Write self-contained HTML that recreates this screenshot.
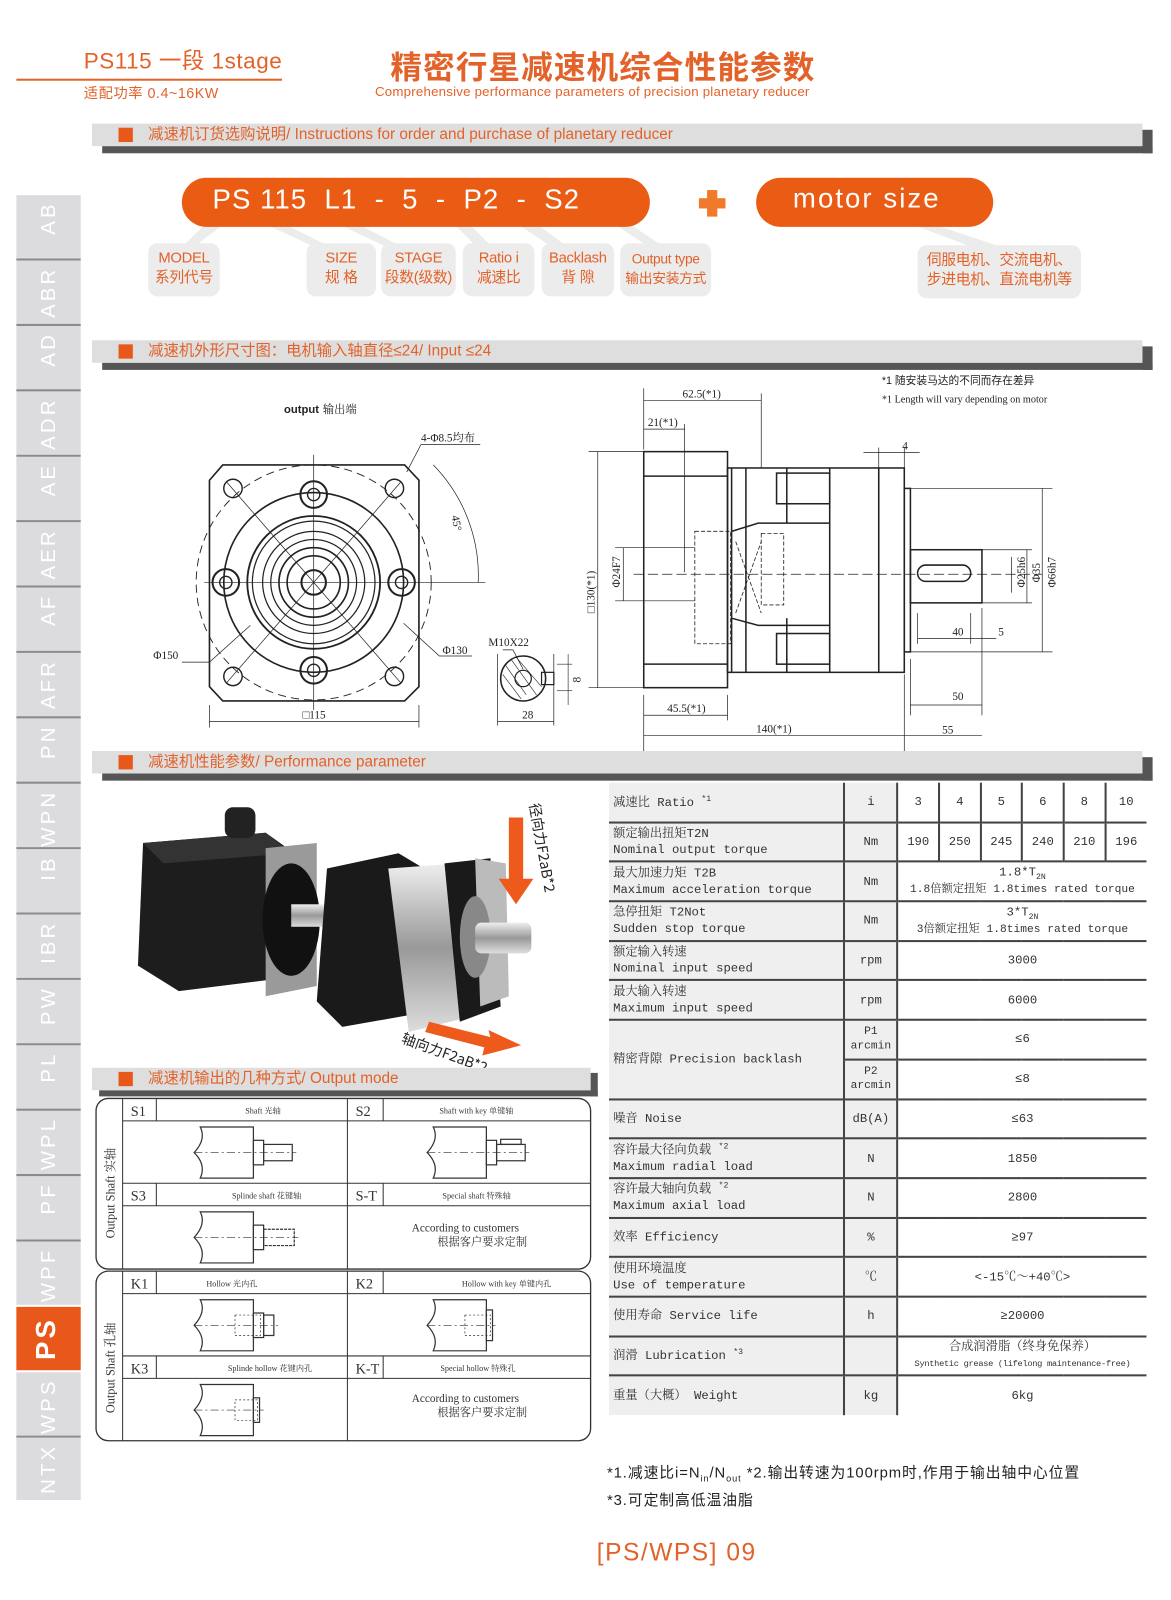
<!DOCTYPE html>
<html><head><meta charset="utf-8"><style>
*{margin:0;padding:0;box-sizing:border-box}
html,body{width:1171px;height:1600px;overflow:hidden;background:#fff}
#w{position:absolute;left:0;top:0;width:1146px;height:1566px;transform:scale(1.0218);transform-origin:0 0;font-family:"Liberation Sans","Noto Sans CJK SC",sans-serif}
.a{position:absolute}
.or{color:#e2622a}
.tab{position:absolute;left:16px;width:63px;height:62px;background:#dcdcdf}
.tab span{position:absolute;left:50%;top:6px;transform-origin:0 0;transform:translate(-12px,0) rotate(-90deg) translate(-100%,0);color:#fff;font-size:20px;letter-spacing:3px;white-space:nowrap;line-height:24px}
.sec{position:absolute;height:22px;background:#dedede}
.secd{position:absolute;background:#555}
.sq{position:absolute;width:14px;height:14px;background:#e8581a}
.st{position:absolute;font-size:15px;color:#e2622a;white-space:nowrap;line-height:22px}
.lb{position:absolute;top:238px;height:52px;background:#ececec;border-radius:9px;color:#e2622a;font-size:14.5px;line-height:19px;text-align:center;padding-top:6px;white-space:nowrap;letter-spacing:-0.3px}
table.p{position:absolute;left:596px;top:766px;width:526px;table-layout:fixed;border-collapse:collapse;font-family:"Liberation Mono","Noto Serif CJK SC",serif;font-size:12px;color:#333}
table.p tr{height:38.7px}
table.p td{border-top:2px solid #444;height:38.7px;padding:0;line-height:16px;white-space:nowrap;overflow:hidden}
table.p tr:first-child td{border-top:none}
td.l{background:#efefef;padding-left:4px!important;text-align:left}
td.u{background:#efefef;text-align:center;border-left:2px solid #444;border-right:2px solid #444}
td.v{text-align:center;background:#fff}
td.r{text-align:center;border-left:2px solid #444}
</style></head><body><div id="w">

<!-- header -->
<div class="a or" style="left:82px;top:47px;font-size:22px;letter-spacing:0.5px;line-height:26px">PS115 一段 1stage</div>
<div class="a" style="left:16px;top:77px;width:260px;height:2px;background:#e2622a"></div>
<div class="a or" style="left:82px;top:81px;font-size:14px;letter-spacing:0.5px">适配功率 0.4~16KW</div>
<div class="a or" style="left:382px;top:44px;font-size:31px;font-weight:bold;letter-spacing:1px;font-family:'Noto Sans CJK SC',sans-serif;line-height:40px">精密行星减速机综合性能参数</div>
<div class="a or" style="left:367px;top:82px;font-size:13px;letter-spacing:0.2px">Comprehensive performance parameters of precision planetary reducer</div>

<!-- sidebar -->
<div class="tab" style="top:191px"><span>AB</span></div>
<div class="tab" style="top:255px"><span>ABR</span></div>
<div class="tab" style="top:319px"><span>AD</span></div>
<div class="tab" style="top:383px"><span>ADR</span></div>
<div class="tab" style="top:447px"><span>AE</span></div>
<div class="tab" style="top:511px"><span>AER</span></div>
<div class="tab" style="top:575px"><span>AF</span></div>
<div class="tab" style="top:639px"><span>AFR</span></div>
<div class="tab" style="top:703px"><span>PN</span></div>
<div class="tab" style="top:767px"><span>WPN</span></div>
<div class="tab" style="top:831px"><span>IB</span></div>
<div class="tab" style="top:895px"><span>IBR</span></div>
<div class="tab" style="top:959px"><span>PW</span></div>
<div class="tab" style="top:1023px"><span>PL</span></div>
<div class="tab" style="top:1087px"><span>WPL</span></div>
<div class="tab" style="top:1151px"><span>PF</span></div>
<div class="tab" style="top:1215px"><span>WPF</span></div>
<div class="tab" style="top:1279px;background:#e8581a"><span style="font-size:27px;font-weight:bold;top:10px;transform:translate(-15px,0) rotate(-90deg) translate(-100%,0)">PS</span></div>
<div class="tab" style="top:1343px"><span>WPS</span></div>
<div class="tab" style="top:1407px;height:61px"><span>NTX</span></div>
<svg class="a" style="left:0;top:0" width="100" height="1566">
<g stroke="#8a8a8a" stroke-width="2">
<line x1="16" y1="254" x2="79" y2="254"/><line x1="16" y1="318" x2="79" y2="318"/><line x1="16" y1="382" x2="79" y2="382"/><line x1="16" y1="446" x2="79" y2="446"/><line x1="16" y1="510" x2="79" y2="510"/><line x1="16" y1="574" x2="79" y2="574"/><line x1="16" y1="638" x2="79" y2="638"/><line x1="16" y1="702" x2="79" y2="702"/><line x1="16" y1="766" x2="79" y2="766"/><line x1="16" y1="830" x2="79" y2="830"/><line x1="16" y1="894" x2="79" y2="894"/><line x1="16" y1="958" x2="79" y2="958"/><line x1="16" y1="1022" x2="79" y2="1022"/><line x1="16" y1="1086" x2="79" y2="1086"/><line x1="16" y1="1150" x2="79" y2="1150"/><line x1="16" y1="1214" x2="79" y2="1214"/><line x1="16" y1="1406" x2="79" y2="1406"/></g></svg>

<!-- section bars -->
<div class="secd" style="left:100px;top:143px;width:1028px;height:7px"></div><div class="secd" style="left:1118px;top:127px;width:10px;height:23px"></div>
<div class="sec" style="left:90px;top:121px;width:1028px"></div><div class="sq" style="left:116px;top:125px"></div>
<div class="st" style="left:145px;top:121px">减速机订货选购说明/ Instructions for order and purchase of planetary reducer</div>

<div class="secd" style="left:100px;top:355px;width:1028px;height:7px"></div><div class="secd" style="left:1118px;top:339px;width:10px;height:23px"></div>
<div class="sec" style="left:90px;top:333px;width:1028px"></div><div class="sq" style="left:116px;top:337px"></div>
<div class="st" style="left:145px;top:333px">减速机外形尺寸图：电机输入轴直径≤24/ Input ≤24</div>

<div class="secd" style="left:100px;top:757px;width:1028px;height:7px"></div><div class="secd" style="left:1118px;top:741px;width:10px;height:23px"></div>
<div class="sec" style="left:90px;top:735px;width:1028px"></div><div class="sq" style="left:116px;top:739px"></div>
<div class="st" style="left:145px;top:735px">减速机性能参数/ Performance parameter</div>

<div class="secd" style="left:97px;top:1067px;width:488px;height:6px"></div><div class="secd" style="left:578px;top:1050px;width:7px;height:23px"></div>
<div class="sec" style="left:90px;top:1045px;width:488px"></div><div class="sq" style="left:116px;top:1049px"></div>
<div class="st" style="left:145px;top:1045px">减速机输出的几种方式/ Output mode</div>

<!-- order code -->
<svg class="a" style="left:0;top:0" width="1146" height="300">
<g fill="#ececec">
<polygon points="205,215 225,215 185,245 175,245"/>
<polygon points="250,215 270,215 330,245 315,245"/>
<polygon points="322,215 342,215 400,245 385,245"/>
<polygon points="440,215 455,215 485,245 470,245"/>
<polygon points="500,215 520,215 560,245 545,245"/>
<polygon points="595,215 610,215 655,245 640,245"/>
<polygon points="880,215 900,215 990,245 960,245"/>
</g>
<rect x="178" y="174" width="458" height="48" rx="24" fill="#ea5b14"/>
<rect x="740" y="174" width="232" height="48" rx="24" fill="#ea5b14"/>
<rect x="692" y="186" width="10" height="26" fill="#f07a2a"/><rect x="684" y="194" width="26" height="10" fill="#f07a2a"/>
</svg>
<div class="a" style="left:208px;top:180px;font-size:27px;color:#fff;white-space:pre;letter-spacing:1px">PS 115  L1  -  5  -  P2  -  S2</div>
<div class="a" style="left:776px;top:179px;font-size:27px;color:#fff;letter-spacing:2px">motor size</div>
<div class="lb" style="left:145px;width:70px">MODEL<br>系列代号</div>
<div class="lb" style="left:300px;width:68px">SIZE<br>规 格</div>
<div class="lb" style="left:373px;width:73px">STAGE<br>段数(级数)</div>
<div class="lb" style="left:453px;width:70px">Ratio i<br>减速比</div>
<div class="lb" style="left:530px;width:71px">Backlash<br>背 隙</div>
<div class="lb" style="left:607px;width:89px;font-size:13.5px">Output type<br>输出安装方式</div>
<div class="lb" style="left:898px;width:160px;top:240px">伺服电机、交流电机、<br>步进电机、直流电机等</div>

<!-- drawings -->
<svg class="a" style="left:0;top:360px" width="1146" height="375" font-family="Liberation Serif,Noto Serif CJK SC,serif" font-size="11" fill="none" stroke="#222" stroke-width="1.2">
<g transform="translate(0,-360)">
<polygon points="218,455 396,455 410,470 410,672 396,686 218,686 205,672 205,470" stroke-width="1.6"/>
<circle cx="307" cy="570" r="115" stroke-dasharray="8 5" stroke-width="0.9"/>
<circle cx="307" cy="570" r="88" stroke-width="1.6"/>
<circle cx="307" cy="570" r="65" stroke-width="1.8"/>
<circle cx="307" cy="570" r="60"/><circle cx="307" cy="570" r="50"/><circle cx="307" cy="570" r="42"/><circle cx="307" cy="570" r="34" stroke-width="1.6"/><circle cx="307" cy="570" r="26" stroke-width="1.6"/><circle cx="307" cy="570" r="12" stroke-width="2"/>
<g stroke-width="1.4"><circle cx="228" cy="478" r="9"/><circle cx="386" cy="478" r="9"/><circle cx="228" cy="662" r="9"/><circle cx="386" cy="662" r="9"/>
<circle cx="307" cy="484" r="13" stroke-width="2"/><circle cx="307" cy="484" r="6"/><circle cx="307" cy="656" r="13" stroke-width="2"/><circle cx="307" cy="656" r="6"/>
<circle cx="221" cy="570" r="13" stroke-width="2"/><circle cx="221" cy="570" r="6"/><circle cx="393" cy="570" r="13" stroke-width="2"/><circle cx="393" cy="570" r="6"/></g>
<g stroke-width="0.7"><line x1="200" y1="570" x2="475" y2="570"/><line x1="307" y1="445" x2="307" y2="695"/><line x1="222" y1="472" x2="392" y2="668"/><line x1="392" y1="472" x2="222" y2="668"/>
<line x1="205" y1="690" x2="205" y2="712"/><line x1="410" y1="690" x2="410" y2="712"/><line x1="205" y1="706" x2="410" y2="706"/>
<path d="M424,455 A155,155 0 0,1 468,570"/><line x1="398" y1="462" x2="412" y2="435"/><line x1="412" y1="435" x2="470" y2="435"/>
<polyline points="178,648 205,648 245,612"/><polyline points="462,642 430,642 395,610"/>
<line x1="487" y1="640" x2="487" y2="710"/><line x1="542" y1="640" x2="542" y2="710"/><line x1="487" y1="706" x2="542" y2="706"/></g>
<circle cx="512" cy="664" r="22" stroke-width="1.5"/><circle cx="512" cy="664" r="8"/><rect x="530" y="658" width="12" height="12"/>
<g stroke-width="0.6"><line x1="494" y1="650" x2="515" y2="680"/><line x1="500" y1="645" x2="525" y2="680"/><line x1="505" y1="643" x2="530" y2="672"/><line x1="492" y1="660" x2="510" y2="684"/></g>
<polyline points="492,636 502,636 512,655" stroke-width="0.7"/><line x1="545" y1="650" x2="560" y2="650" stroke-width="0.6"/><line x1="545" y1="676" x2="560" y2="676" stroke-width="0.6"/><line x1="556" y1="640" x2="556" y2="690" stroke-width="0.6"/>
<g stroke-width="1.5">
<rect x="630" y="442" width="82" height="231"/><line x1="630" y1="466" x2="712" y2="466"/><line x1="630" y1="650" x2="712" y2="650"/>
<rect x="712" y="458" width="148" height="200"/><rect x="860" y="458" width="25" height="200"/><rect x="885" y="478" width="6" height="160"/>
<rect x="891" y="538" width="70" height="52"/><rect x="898" y="553" width="52" height="16" rx="8"/>
<rect x="760" y="463" width="52" height="30"/><rect x="760" y="620" width="52" height="30"/>
<line x1="716" y1="458" x2="716" y2="658"/><line x1="730" y1="458" x2="730" y2="658"/><line x1="770" y1="458" x2="770" y2="512"/><line x1="770" y1="605" x2="770" y2="658"/>
<polyline points="716,520 742,512 812,512"/><polyline points="716,605 742,612 812,612"/><line x1="812" y1="458" x2="812" y2="658"/></g>
<g stroke-dasharray="4 2" stroke-width="0.8"><rect x="680" y="520" width="35" height="110"/><rect x="745" y="522" width="22" height="70"/><line x1="720" y1="530" x2="745" y2="600"/><line x1="720" y1="600" x2="745" y2="530"/></g>
<g stroke-width="0.7"><line x1="620" y1="562" x2="1020" y2="562" stroke-dasharray="10 4"/>
<line x1="630" y1="380" x2="630" y2="440"/><line x1="745" y1="385" x2="745" y2="458"/><line x1="630" y1="392" x2="745" y2="392"/><line x1="670" y1="415" x2="670" y2="560"/><line x1="630" y1="420" x2="670" y2="420"/>
<line x1="576" y1="442" x2="630" y2="442"/><line x1="576" y1="673" x2="630" y2="673"/><line x1="585" y1="442" x2="585" y2="673"/>
<line x1="602" y1="536" x2="680" y2="536"/><line x1="602" y1="588" x2="680" y2="588"/><line x1="610" y1="536" x2="610" y2="588"/>
<line x1="630" y1="680" x2="630" y2="740"/><line x1="712" y1="680" x2="712" y2="705"/><line x1="630" y1="700" x2="712" y2="700"/><line x1="630" y1="720" x2="885" y2="720"/><line x1="885" y1="660" x2="885" y2="740"/>
<line x1="891" y1="645" x2="891" y2="700"/><line x1="961" y1="595" x2="961" y2="700"/><line x1="891" y1="690" x2="961" y2="690"/><line x1="885" y1="720" x2="961" y2="720"/>
<line x1="898" y1="600" x2="898" y2="630"/><line x1="950" y1="600" x2="950" y2="630"/><line x1="898" y1="625" x2="975" y2="625"/>
<line x1="860" y1="438" x2="860" y2="458"/><line x1="885" y1="438" x2="885" y2="458"/><line x1="845" y1="443" x2="900" y2="443"/>
<line x1="891" y1="478" x2="1030" y2="478"/><line x1="891" y1="638" x2="1030" y2="638"/><line x1="1020" y1="478" x2="1020" y2="638"/>
<line x1="961" y1="538" x2="1010" y2="538"/><line x1="961" y1="590" x2="1010" y2="590"/><line x1="1005" y1="538" x2="1005" y2="590"/><line x1="990" y1="545" x2="990" y2="580"/></g>
<g fill="#222" stroke="none">
<text x="278" y="404" font-family="Liberation Sans" font-weight="bold" font-size="11">output</text><text x="316" y="404" font-size="11">输出端</text>
<text x="412" y="432">4-Φ8.5均布</text><text x="442" y="505" transform="rotate(80 442 505)">45°</text>
<text x="150" y="645">Φ150</text><text x="433" y="640">Φ130</text><text x="296" y="703">□115</text><text x="478" y="632">M10X22</text><text x="511" y="703">28</text>
<text transform="translate(568,668) rotate(-90)">8</text>
<text x="668" y="389">62.5(*1)</text><text x="634" y="417">21(*1)</text><text x="883" y="440">4</text>
<text x="653" y="697">45.5(*1)</text><text x="740" y="717">140(*1)</text><text x="932" y="685">50</text><text x="922" y="718">55</text><text x="932" y="622">40</text><text x="977" y="622">5</text>
<text transform="translate(582,600) rotate(-90)">□130(*1)</text><text transform="translate(607,575) rotate(-90)">Φ24F7</text>
<text transform="translate(1003,575) rotate(-90)">Φ25h6</text><text transform="translate(1018,570) rotate(-90)">Φ35</text><text transform="translate(1033,575) rotate(-90)">Φ66h7</text>
<text x="863" y="376" font-family="Liberation Sans,Noto Sans CJK SC" font-size="10.5">*1 随安装马达的不同而存在差异</text>
<text x="863" y="394" font-size="10">*1 Length will vary depending on motor</text>
</g></g></svg>

<!-- product photo -->
<svg class="a" style="left:120px;top:765px" width="440" height="280">
<defs><linearGradient id="sil" x1="0" y1="0" x2="0" y2="1"><stop offset="0" stop-color="#eee"/><stop offset=".5" stop-color="#999"/><stop offset="1" stop-color="#ddd"/></linearGradient></defs>
<polygon points="20,60 140,50 175,75 175,190 55,205 15,180" fill="#1d1d1d"/>
<polygon points="20,60 140,50 165,70 40,80" fill="#333"/>
<rect x="100" y="25" width="30" height="30" rx="8" fill="#222"/>
<polygon points="140,65 190,60 190,200 140,210" fill="#9a9a9a"/>
<ellipse cx="165" cy="135" rx="28" ry="55" fill="#111"/>
<rect x="165" y="120" width="40" height="22" fill="url(#sil)"/>
<polygon points="200,85 270,70 295,85 300,225 215,240 190,215" fill="#1a1a1a"/>
<polygon points="260,85 330,80 340,230 280,245" fill="url(#sil)"/>
<polygon points="315,80 360,75 370,220 330,235" fill="#1a1a1a"/>
<polygon points="345,75 375,80 378,210 350,220" fill="#bbb"/>
<ellipse cx="345" cy="152" rx="15" ry="40" fill="#888"/>
<rect x="345" y="138" width="55" height="30" rx="6" fill="url(#sil)"/>
<polygon points="378,35 392,35 392,95 402,95 385,120 368,95 378,95" fill="#ee5a1c"/>
<polygon points="300,235 360,250 358,243 390,258 352,268 354,260 296,245" fill="#ee5a1c"/>
<text transform="translate(398,22) rotate(80)" font-size="14" fill="#222" font-family="Noto Sans CJK SC,sans-serif">径向力F2aB*2</text>
<text transform="translate(272,255) rotate(20)" font-size="14" fill="#222" font-family="Noto Sans CJK SC,sans-serif">轴向力F2aB*2</text>
</svg>

<!-- output mode -->
<svg class="a" style="left:90px;top:1070px" width="495" height="345" font-family="Liberation Serif,Noto Serif CJK SC,serif" fill="none" stroke="#333">
<rect x="4" y="5" width="484" height="167" rx="12" stroke-width="1.3"/>
<rect x="4" y="174" width="484" height="166" rx="12" stroke-width="1.3"/>
<g stroke-width="1"><line x1="30" y1="5" x2="30" y2="172"/><line x1="30" y1="174" x2="30" y2="340"/>
<line x1="250" y1="5" x2="250" y2="172"/><line x1="250" y1="174" x2="250" y2="340"/>
<line x1="30" y1="27" x2="488" y2="27"/><line x1="30" y1="88" x2="488" y2="88"/><line x1="30" y1="110" x2="488" y2="110"/>
<line x1="30" y1="196" x2="488" y2="196"/><line x1="30" y1="257" x2="488" y2="257"/><line x1="30" y1="279" x2="488" y2="279"/>
<line x1="63" y1="5" x2="63" y2="27"/><line x1="63" y1="88" x2="63" y2="110"/><line x1="63" y1="174" x2="63" y2="196"/><line x1="63" y1="257" x2="63" y2="279"/>
<line x1="285" y1="5" x2="285" y2="27"/><line x1="285" y1="88" x2="285" y2="110"/><line x1="285" y1="174" x2="285" y2="196"/><line x1="285" y1="257" x2="285" y2="279"/></g>
<g stroke-width="1.2">
<path d="M106,33 L158,33 L158,83 L106,83 Q112,70 100,58 Q112,45 106,33 Z"/>
<rect x="158" y="46" width="10" height="24"/><rect x="168" y="50" width="28" height="16"/>
<path d="M334,33 L386,33 L386,83 L334,83 Q340,70 328,58 Q340,45 334,33 Z"/><rect x="386" y="46" width="10" height="24"/><rect x="396" y="50" width="28" height="16"/><rect x="400" y="45" width="20" height="5"/>
<path d="M106,116 L158,116 L158,166 L106,166 Q112,153 100,141 Q112,128 106,116 Z"/><rect x="158" y="129" width="10" height="24"/><rect x="168" y="133" width="30" height="16" stroke-dasharray="3 1"/>
<path d="M106,202 L158,202 L158,252 L106,252 Q112,239 100,227 Q112,214 106,202 Z"/><rect x="158" y="215" width="10" height="24"/><rect x="168" y="217" width="10" height="20"/>
<path d="M334,202 L386,202 L386,252 L334,252 Q340,239 328,227 Q340,214 334,202 Z"/><rect x="386" y="212" width="6" height="30"/>
<path d="M106,285 L158,285 L158,335 L106,335 Q112,322 100,310 Q112,297 106,285 Z"/><rect x="158" y="298" width="6" height="24"/></g>
<g stroke-width="0.6" stroke-dasharray="8 3 2 3"><line x1="100" y1="58" x2="200" y2="58"/><line x1="328" y1="58" x2="428" y2="58"/><line x1="100" y1="141" x2="202" y2="141"/><line x1="100" y1="227" x2="182" y2="227"/><line x1="328" y1="227" x2="395" y2="227"/><line x1="100" y1="310" x2="168" y2="310"/></g>
<g stroke-width="0.7" stroke-dasharray="2 2"><rect x="140" y="217" width="25" height="20"/><rect x="365" y="217" width="25" height="20"/><rect x="140" y="300" width="22" height="20"/></g>
<g fill="#333" stroke="none">
<text x="38" y="22" font-size="14">S1</text><text x="150" y="20" font-size="8">Shaft 光轴</text>
<text x="258" y="22" font-size="14">S2</text><text x="340" y="20" font-size="8">Shaft with key 单键轴</text>
<text x="38" y="105" font-size="14">S3</text><text x="137" y="103" font-size="8">Splinde shaft 花键轴</text>
<text x="258" y="105" font-size="14">S-T</text><text x="343" y="103" font-size="8">Special shaft 特殊轴</text>
<text x="313" y="135" font-size="11">According to customers</text><text x="338" y="149" font-size="11">根据客户要求定制</text>
<text x="38" y="191" font-size="14">K1</text><text x="112" y="189" font-size="8">Hollow 光内孔</text>
<text x="258" y="191" font-size="14">K2</text><text x="362" y="189" font-size="8">Hollow with key 单键内孔</text>
<text x="38" y="274" font-size="14">K3</text><text x="133" y="272" font-size="8">Splinde hollow 花键内孔</text>
<text x="258" y="274" font-size="14">K-T</text><text x="341" y="272" font-size="8">Special hollow 特殊孔</text>
<text x="313" y="302" font-size="11">According to customers</text><text x="338" y="316" font-size="11">根据客户要求定制</text>
<text transform="translate(22,142) rotate(-90)" font-size="12">Output Shaft  实轴</text>
<text transform="translate(22,313) rotate(-90)" font-size="12">Output Shaft  孔轴</text>
</g></svg>

<!-- performance table -->
<table class="p">
<colgroup><col style="width:230px"><col style="width:52px"><col style="width:40.6px"><col style="width:40.6px"><col style="width:40.6px"><col style="width:40.6px"><col style="width:40.6px"><col style="width:40.4px"></colgroup>
<tr><td class="l">减速比 Ratio <sup style="font-size:8px">*1</sup></td><td class="u">i</td><td class="r">3</td><td class="r">4</td><td class="r">5</td><td class="r">6</td><td class="r">8</td><td class="r">10</td></tr>
<tr><td class="l">额定输出扭矩T2N<br>Nominal output torque</td><td class="u">Nm</td><td class="r">190</td><td class="r">250</td><td class="r">245</td><td class="r">240</td><td class="r">210</td><td class="r">196</td></tr>
<tr><td class="l">最大加速力矩 T2B<br>Maximum acceleration torque</td><td class="u">Nm</td><td class="v" colspan="6">1.8*T<sub style="font-size:8px;line-height:0">2N</sub><br><span style="font-size:11px">1.8倍额定扭矩 1.8times rated torque</span></td></tr>
<tr><td class="l">急停扭矩 T2Not<br>Sudden stop torque</td><td class="u">Nm</td><td class="v" colspan="6">3*T<sub style="font-size:8px;line-height:0">2N</sub><br><span style="font-size:11px">3倍额定扭矩 1.8times rated torque</span></td></tr>
<tr><td class="l">额定输入转速<br>Nominal input speed</td><td class="u">rpm</td><td class="v" colspan="6">3000</td></tr>
<tr><td class="l">最大输入转速<br>Maximum input speed</td><td class="u">rpm</td><td class="v" colspan="6">6000</td></tr>
<tr><td class="l" rowspan="2">精密背隙 Precision backlash</td><td class="u" style="font-size:11px;line-height:14px">P1<br>arcmin</td><td class="v" colspan="6">≤6</td></tr>
<tr><td class="u" style="font-size:11px;line-height:14px">P2<br>arcmin</td><td class="v" colspan="6">≤8</td></tr>
<tr><td class="l">噪音 Noise</td><td class="u">dB(A)</td><td class="v" colspan="6">≤63</td></tr>
<tr><td class="l">容许最大径向负载 <sup style="font-size:8px;line-height:0">*2</sup><br>Maximum radial load</td><td class="u">N</td><td class="v" colspan="6">1850</td></tr>
<tr><td class="l">容许最大轴向负载 <sup style="font-size:8px;line-height:0">*2</sup><br>Maximum axial load</td><td class="u">N</td><td class="v" colspan="6">2800</td></tr>
<tr><td class="l">效率 Efficiency</td><td class="u">%</td><td class="v" colspan="6">≥97</td></tr>
<tr><td class="l">使用环境温度<br>Use of temperature</td><td class="u">℃</td><td class="v" colspan="6">&lt;-15℃～+40℃&gt;</td></tr>
<tr><td class="l">使用寿命 Service life</td><td class="u">h</td><td class="v" colspan="6">≥20000</td></tr>
<tr><td class="l">润滑 Lubrication <sup style="font-size:8px;line-height:0">*3</sup></td><td class="u"></td><td class="v" colspan="6">合成润滑脂（终身免保养）<br><span style="font-size:8.5px;letter-spacing:-0.3px">Synthetic grease (lifelong maintenance-free)</span></td></tr>
<tr><td class="l">重量（大概） Weight</td><td class="u">kg</td><td class="v" colspan="6">6kg</td></tr>
</table>

<!-- footnotes -->
<div class="a" style="left:594px;top:1430px;font-size:14.5px;color:#222;letter-spacing:0.9px;white-space:nowrap;font-family:'Liberation Sans','Noto Sans CJK SC',sans-serif">*1.减速比i=N<sub style="font-size:9px">in</sub>/N<sub style="font-size:9px">out</sub>  *2.输出转速为100rpm时,作用于输出轴中心位置</div>
<div class="a" style="left:594px;top:1457px;font-size:14.5px;color:#222;letter-spacing:0.9px;font-family:'Liberation Sans','Noto Sans CJK SC',sans-serif">*3.可定制高低温油脂</div>
<div class="a or" style="left:584px;top:1506px;font-size:24px;letter-spacing:1.5px">[PS/WPS] 09</div>
</div></body></html>
